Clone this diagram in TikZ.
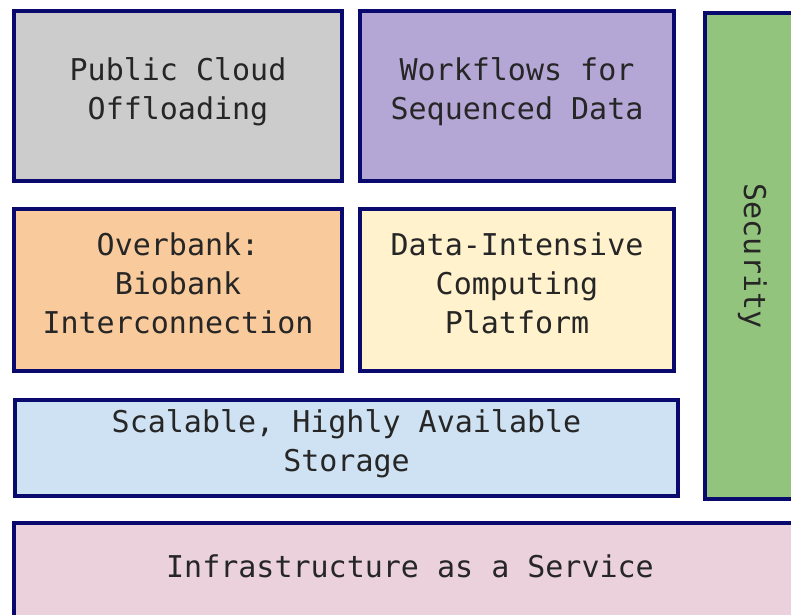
\documentclass[tikz,border=0pt]{standalone}
\usepackage{fontspec}
\setmonofont{DejaVu Sans Mono}
\usetikzlibrary{positioning}

\definecolor{layerline}{RGB}{10,10,110}
\definecolor{layertext}{RGB}{38,38,38}
\definecolor{cloudgray}{RGB}{204,204,204}
\definecolor{flowpurple}{RGB}{180,167,214}
\definecolor{secgreen}{RGB}{147,196,125}
\definecolor{bankorange}{RGB}{249,203,156}
\definecolor{dicyellow}{RGB}{255,242,204}
\definecolor{storeblue}{RGB}{207,226,243}
\definecolor{iaaspink}{RGB}{234,209,220}

\tikzset{
	layer/.style={draw=layerline, line width=4pt, rectangle, align=center,
		text=layertext, inner sep=0pt, text depth=14pt,
		font=\ttfamily\fontsize{30}{39}\selectfont}
}

\begin{document}
\begin{tikzpicture}[x=1pt, y=-1pt]
	\useasboundingbox (0,0) rectangle (791,614);
	\clip (0,0) rectangle (791,614);

	\node[layer, fill=cloudgray, minimum width=328pt, minimum height=170pt] (cloud) at (178,96) {Public Cloud\\Offloading};
	\node[layer, fill=flowpurple, minimum width=314pt, minimum height=170pt] (workflows) at (517,96) {Workflows for\\Sequenced Data};
	\node[layer, fill=secgreen, minimum width=95pt, minimum height=486pt] (security) at (752.5,256) {};
	\node[rotate=-90, text=layertext, font=\ttfamily\fontsize{30}{39}\selectfont] (securitytext) at (security.center) {Security};

	\node[layer, fill=bankorange, minimum width=328pt, minimum height=162pt] (overbank) at (178,290) {Overbank:\\Biobank\\Interconnection};
	\node[layer, fill=dicyellow, minimum width=314pt, minimum height=162pt] (dicp) at (517,290) {Data-Intensive\\Computing\\Platform};

	\node[layer, fill=storeblue, minimum width=663pt, minimum height=96pt] (storage) at (346.5,448) {Scalable, Highly Available\\Storage};
	\node[layer, fill=iaaspink, minimum width=792pt, minimum height=95pt, text depth=8pt] (iaas) at (410,570.5) {Infrastructure as a Service};
\end{tikzpicture}
\end{document}
